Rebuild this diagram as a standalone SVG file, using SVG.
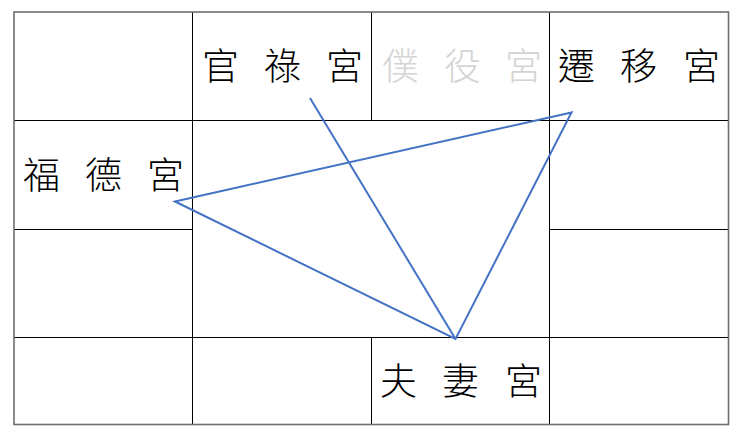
<svg xmlns="http://www.w3.org/2000/svg" width="740" height="437" viewBox="0 0 740 437">
<style>
.grid{stroke:#000;stroke-width:1;fill:none}
.outer{stroke:#6e6e6e;stroke-width:1.6;fill:none}
.lbl{font-family:"Noto Sans CJK TC","Noto Sans CJK SC",sans-serif;font-size:37px;font-weight:300;fill:#000}
.dim{fill:#d4d4d4}
.conn{stroke:#4472C4;stroke-width:2;fill:none;stroke-linejoin:miter}
</style>
<rect width="740" height="437" fill="#fff"/>
<g id="grid">
<line class="grid" x1="192.5" y1="12" x2="192.5" y2="424"/>
<line class="grid" x1="371.5" y1="12" x2="371.5" y2="120.5"/>
<line class="grid" x1="371.5" y1="337.5" x2="371.5" y2="424"/>
<line class="grid" x1="549.5" y1="12" x2="549.5" y2="424"/>
<line class="grid" x1="14" y1="120.5" x2="728" y2="120.5"/>
<line class="grid" x1="14" y1="229.5" x2="192.5" y2="229.5"/>
<line class="grid" x1="549.5" y1="229.5" x2="728" y2="229.5"/>
<line class="grid" x1="14" y1="337.5" x2="728" y2="337.5"/>
<rect class="outer" x="14" y="12" width="714.5" height="412.5"/>
</g>
<g id="n-guanlu"><text class="lbl" y="80"><tspan x="202">官</tspan><tspan x="264">祿</tspan><tspan x="326">宮</tspan></text></g>
<g id="n-puyi"><text class="lbl dim" y="80"><tspan x="382">僕</tspan><tspan x="444">役</tspan><tspan x="505">宮</tspan></text></g>
<g id="n-qianyi"><text class="lbl" y="80"><tspan x="558">遷</tspan><tspan x="620">移</tspan><tspan x="683">宮</tspan></text></g>
<g id="n-fude"><text class="lbl" y="189"><tspan x="23">福</tspan><tspan x="85">德</tspan><tspan x="147">宮</tspan></text></g>
<g id="n-fuqi"><text class="lbl" y="395"><tspan x="380">夫</tspan><tspan x="442">妻</tspan><tspan x="505">宮</tspan></text></g>
<g id="connectors">
<line class="conn" x1="310" y1="98" x2="455.5" y2="339"/>
<polygon class="conn" points="175,201.5 571.5,112.5 455.5,339"/>
</g>
</svg>
